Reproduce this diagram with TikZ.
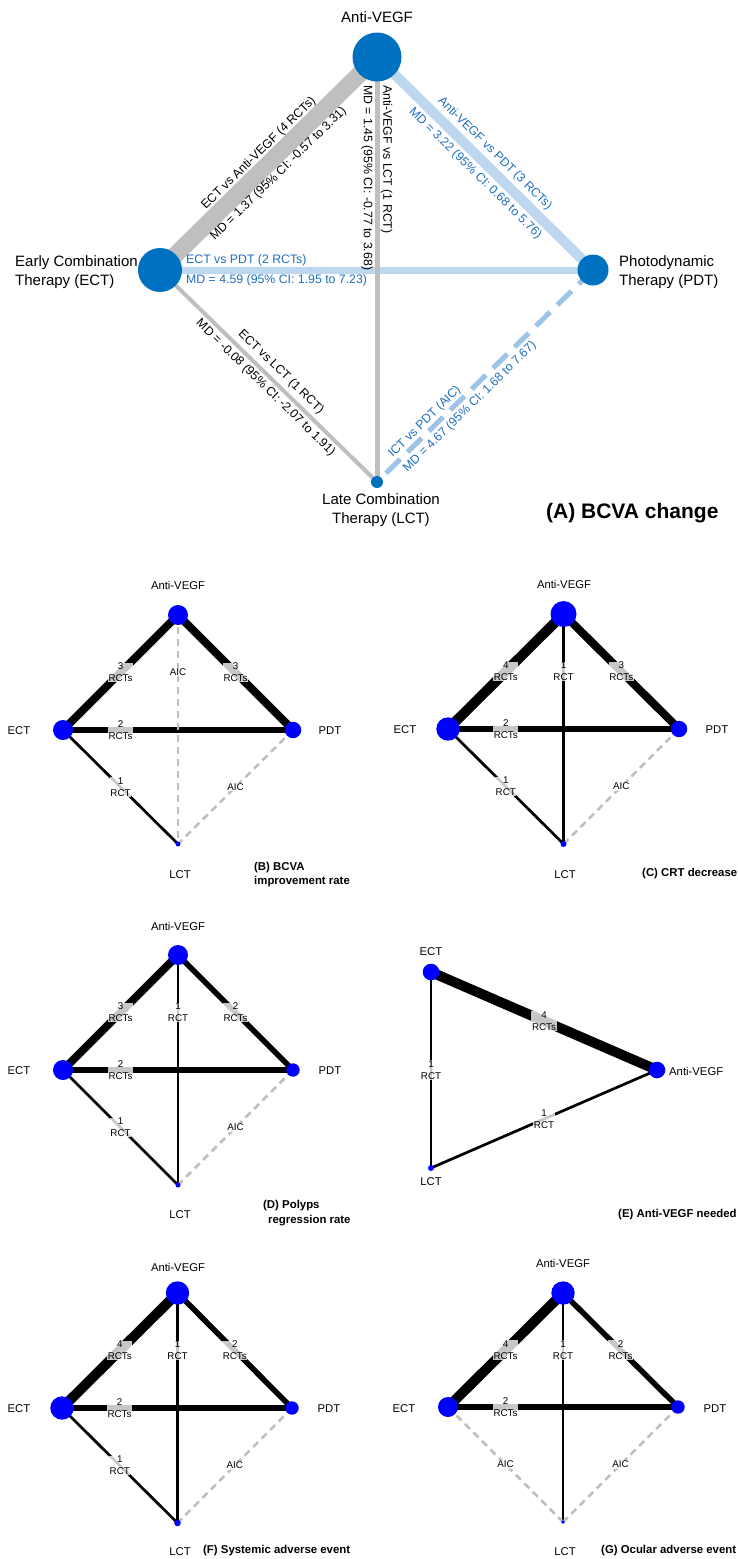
\documentclass[tikz,border=0pt]{standalone}
\usepackage{fontspec}
\setmainfont{Liberation Sans}
\usetikzlibrary{backgrounds}
\definecolor{nodeblue}{HTML}{0070C0}
\definecolor{txtblue}{HTML}{1F6FC0}
\definecolor{linegray}{HTML}{BFBFBF}
\definecolor{paleblue}{HTML}{BDD7EE}
\definecolor{dashblue}{HTML}{9DC3E6}
\definecolor{aicgray}{HTML}{BEBEBE}
\definecolor{pureblue}{HTML}{0000FF}
\begin{document}
\begin{tikzpicture}[x=1pt,y=-1pt,
  bigdot/.style={circle,fill=nodeblue,draw=none,inner sep=0pt,minimum size=#1},
  pdot/.style={circle,fill=pureblue,draw=none,inner sep=0pt,minimum size=#1},
  bigname/.style={font=\fontsize{15}{18.6}\selectfont,align=left,inner sep=0pt},
  lbl/.style={font=\fontsize{11.3}{13}\selectfont,inner sep=0pt},
  paneltitle/.style={font=\fontsize{11.4}{14}\selectfont\bfseries,anchor=west,align=left,inner sep=0pt},
  mdtext/.style={font=\fontsize{12.3}{14}\selectfont,inner sep=0pt},
  bluetext/.style={mdtext,text=txtblue},
  cnt/.style={font=\fontsize{9.8}{11.8}\selectfont,align=center,fill=white,fill opacity=0.78,text opacity=1,inner sep=0.6pt},
  w1/.style={draw=black,line width=2.7pt},
  w2/.style={draw=black,line width=5.5pt},
  w3/.style={draw=black,line width=8pt},
  w4/.style={draw=black,line width=10pt},
  aicline/.style={draw=aicgray,line width=2.5pt,dash pattern=on 7pt off 5pt}
]
\useasboundingbox (0,0) rectangle (737,1559);
\begin{pgfonlayer}{background}
  \fill[white] (0,0) rectangle (737,1559);
\end{pgfonlayer}

% ---------------- (A) BCVA change ----------------
\node[bigdot=49pt] (aAV)  at (377,57)  {};
\node[bigdot=44pt] (aECT) at (160,270) {};
\node[bigdot=31pt] (aPDT) at (593,270) {};
\node[bigdot=12pt] (aLCT) at (377,482) {};

\begin{pgfonlayer}{background}
  \draw[linegray,line width=17pt] (aECT.center) -- (aAV.center);
  \draw[paleblue,line width=10pt] (aAV.center) -- (aPDT.center);
  \draw[paleblue,line width=7pt] (aECT.center) -- (aPDT.center);
  \draw[linegray,line width=5pt] (aAV.center) -- (aLCT.center);
  \draw[linegray,line width=4pt] (aECT.center) -- (aLCT.center);
  \draw[dashblue,line width=5pt,dash pattern=on 20pt off 10pt] (aPDT.center) -- (aLCT.center);
\end{pgfonlayer}

\node[bigname] (aAVname) at (377,17) {Anti-VEGF};
\node[bigname,anchor=west] (aECTname) at (15,272) {Early Combination\\Therapy (ECT)};
\node[bigname,anchor=west] (aPDTname) at (619,272) {Photodynamic\\Therapy (PDT)};
\node[bigname,align=center] (aLCTname) at (381,510) {Late Combination\\Therapy (LCT)};
\node[font=\fontsize{21}{24}\selectfont\bfseries,inner sep=0pt,anchor=west] (aTitle) at (546,513) {(A) BCVA change};

\path (aECT.center) -- (aAV.center)
  node[mdtext,pos=0.5,sloped,yshift=14pt] {ECT vs Anti-VEGF (4 RCTs)}
  node[mdtext,pos=0.5,sloped,yshift=-14.5pt] {MD = 1.37 (95\% CI: -0.57 to 3.31)};
\path (aAV.center) -- (aPDT.center)
  node[bluetext,pos=0.5,sloped,yshift=14pt] {Anti-VEGF vs PDT (3 RCTs)}
  node[bluetext,pos=0.5,sloped,yshift=-14pt] {MD = 3.22 (95\% CI: 0.68 to 5.76)};
\path (aECT.center) -- (aPDT.center)
  node[bluetext,pos=0,anchor=west,xshift=26pt,yshift=10pt] {ECT vs PDT (2 RCTs)}
  node[bluetext,pos=0,anchor=west,xshift=26pt,yshift=-10.5pt] {MD = 4.59 (95\% CI: 1.95 to 7.23)};
\path (aAV.center) -- (aLCT.center)
  node[mdtext,pos=0.066,sloped,allow upside down,anchor=west,yshift=9.5pt] {Anti-VEGF vs LCT (1 RCT)}
  node[mdtext,pos=0.066,sloped,allow upside down,anchor=west,yshift=-10pt] {MD = 1.45 (95\% CI: -0.77 to 3.68)};
\path (aECT.center) -- (aLCT.center)
  node[mdtext,pos=0.52,sloped,yshift=11.5pt] {ECT vs LCT (1 RCT)}
  node[mdtext,pos=0.52,sloped,yshift=-10.5pt] {MD = -0.08 (95\% CI: -2.07 to 1.91)};
\path (aLCT.center) -- (aPDT.center)
  node[bluetext,pos=0.093,sloped,anchor=west,yshift=9.5pt] {ICT vs PDT (AIC)}
  node[bluetext,pos=0.093,sloped,anchor=west,yshift=-11.5pt] {MD = 4.67 (95\% CI: 1.68 to 7.67)};

% ---------------- (B) BCVA improvement rate ----------------
\node[pdot=20pt] (bAV)  at (178,615) {};
\node[pdot=20pt] (bECT) at (63,730) {};
\node[pdot=16.5pt] (bPDT) at (293,730) {};
\node[pdot=5pt] (bLCT) at (178,844) {};
\begin{pgfonlayer}{background}
  \draw[w3] (bECT.center) -- (bAV.center);
  \draw[w3] (bAV.center) -- (bPDT.center);
  \draw[w2] (bECT.center) -- (bPDT.center);
  \draw[aicline] (bAV.center) -- (bLCT.center);
  \draw[w1] (bECT.center) -- (bLCT.center);
  \draw[aicline] (bPDT.center) -- (bLCT.center);
\end{pgfonlayer}
\path (bECT.center) -- (bAV.center) node[cnt,pos=0.5] {3\\RCTs};
\path (bAV.center) -- (bPDT.center) node[cnt,pos=0.5] {3\\RCTs};
\path (bECT.center) -- (bPDT.center) node[cnt,pos=0.25] {2\\RCTs};
\path (bAV.center) -- (bLCT.center) node[cnt,pos=0.25] {AIC};
\path (bECT.center) -- (bLCT.center) node[cnt,pos=0.5] {1\\RCT};
\path (bPDT.center) -- (bLCT.center) node[cnt,pos=0.5] {AIC};
\node[lbl] (bAVname) at (178,585) {Anti-VEGF};
\node[lbl] (bECTname) at (19,731) {ECT};
\node[lbl] (bPDTname) at (330,731) {PDT};
\node[lbl] (bLCTname) at (180,875) {LCT};
\node[paneltitle] (bTitle) at (254,875) {(B) BCVA\\improvement rate};

% ---------------- (C) CRT decrease ----------------
\node[pdot=26pt] (cAV)  at (563.5,614) {};
\node[pdot=23.4pt] (cECT) at (448,729) {};
\node[pdot=16.4pt] (cPDT) at (679,729) {};
\node[pdot=6pt] (cLCT) at (563.5,844) {};
\begin{pgfonlayer}{background}
  \draw[w4] (cECT.center) -- (cAV.center);
  \draw[w3] (cAV.center) -- (cPDT.center);
  \draw[w1] (cAV.center) -- (cLCT.center);
  \draw[w2] (cECT.center) -- (cPDT.center);
  \draw[w1] (cECT.center) -- (cLCT.center);
  \draw[aicline] (cPDT.center) -- (cLCT.center);
\end{pgfonlayer}
\path (cECT.center) -- (cAV.center) node[cnt,pos=0.5] {4\\RCTs};
\path (cAV.center) -- (cPDT.center) node[cnt,pos=0.5] {3\\RCTs};
\path (cAV.center) -- (cLCT.center) node[cnt,pos=0.25] {1\\RCT};
\path (cECT.center) -- (cPDT.center) node[cnt,pos=0.25] {2\\RCTs};
\path (cECT.center) -- (cLCT.center) node[cnt,pos=0.5] {1\\RCT};
\path (cPDT.center) -- (cLCT.center) node[cnt,pos=0.5] {AIC};
\node[lbl] (cAVname) at (564,584) {Anti-VEGF};
\node[lbl] (cECTname) at (405,730) {ECT};
\node[lbl] (cPDTname) at (717,730) {PDT};
\node[lbl] (cLCTname) at (565,875) {LCT};
\node[paneltitle] (cTitle) at (642,874) {(C) CRT decrease};

% ---------------- (D) Polyps regression rate ----------------
\node[pdot=20pt] (dAV)  at (178,955) {};
\node[pdot=20pt] (dECT) at (63,1070) {};
\node[pdot=13.4pt] (dPDT) at (293,1070) {};
\node[pdot=5pt] (dLCT) at (178,1185) {};
\begin{pgfonlayer}{background}
  \draw[w3] (dECT.center) -- (dAV.center);
  \draw[w2] (dAV.center) -- (dPDT.center);
  \draw[w1] (dAV.center) -- (dLCT.center);
  \draw[w2] (dECT.center) -- (dPDT.center);
  \draw[w1] (dECT.center) -- (dLCT.center);
  \draw[aicline] (dPDT.center) -- (dLCT.center);
\end{pgfonlayer}
\path (dECT.center) -- (dAV.center) node[cnt,pos=0.5] {3\\RCTs};
\path (dAV.center) -- (dPDT.center) node[cnt,pos=0.5] {2\\RCTs};
\path (dAV.center) -- (dLCT.center) node[cnt,pos=0.25] {1\\RCT};
\path (dECT.center) -- (dPDT.center) node[cnt,pos=0.25] {2\\RCTs};
\path (dECT.center) -- (dLCT.center) node[cnt,pos=0.5] {1\\RCT};
\path (dPDT.center) -- (dLCT.center) node[cnt,pos=0.5] {AIC};
\node[lbl] (dAVname) at (178,926) {Anti-VEGF};
\node[lbl] (dECTname) at (19,1071) {ECT};
\node[lbl] (dPDTname) at (330,1071) {PDT};
\node[lbl] (dLCTname) at (180,1215) {LCT};
\node[paneltitle] (dTitleA) at (263,1206) {(D) Polyps};
\node[paneltitle] (dTitleB) at (268,1221) {regression rate};

% ---------------- (E) Anti-VEGF needed ----------------
\node[pdot=16.6pt] (eECT) at (431,972) {};
\node[pdot=16.6pt] (eAV)  at (657,1070) {};
\node[pdot=6pt] (eLCT) at (431,1168) {};
\begin{pgfonlayer}{background}
  \draw[w4] (eECT.center) -- (eAV.center);
  \draw[w1] (eECT.center) -- (eLCT.center);
  \draw[w1] (eLCT.center) -- (eAV.center);
\end{pgfonlayer}
\path (eECT.center) -- (eAV.center) node[cnt,pos=0.5] {4\\RCTs};
\path (eECT.center) -- (eLCT.center) node[cnt,pos=0.5] {1\\RCT};
\path (eLCT.center) -- (eAV.center) node[cnt,pos=0.5] {1\\RCT};
\node[lbl] (eECTname) at (431,952) {ECT};
\node[lbl,anchor=west] (eAVname) at (669,1071) {Anti-VEGF};
\node[lbl] (eLCTname) at (431,1182) {LCT};
\node[paneltitle] (eTitle) at (618,1215) {(E) Anti-VEGF needed};

% ---------------- (F) Systemic adverse event ----------------
\node[pdot=23.4pt] (fAV)  at (177.5,1293) {};
\node[pdot=23.4pt] (fECT) at (62,1408) {};
\node[pdot=13.4pt] (fPDT) at (292,1408) {};
\node[pdot=6.6pt] (fLCT) at (177.5,1523) {};
\begin{pgfonlayer}{background}
  \draw[w4] (fECT.center) -- (fAV.center);
  \draw[w2] (fAV.center) -- (fPDT.center);
  \draw[w1] (fAV.center) -- (fLCT.center);
  \draw[w2] (fECT.center) -- (fPDT.center);
  \draw[w1] (fECT.center) -- (fLCT.center);
  \draw[aicline] (fPDT.center) -- (fLCT.center);
\end{pgfonlayer}
\path (fECT.center) -- (fAV.center) node[cnt,pos=0.5] {4\\RCTs};
\path (fAV.center) -- (fPDT.center) node[cnt,pos=0.5] {2\\RCTs};
\path (fAV.center) -- (fLCT.center) node[cnt,pos=0.25] {1\\RCT};
\path (fECT.center) -- (fPDT.center) node[cnt,pos=0.25] {2\\RCTs};
\path (fECT.center) -- (fLCT.center) node[cnt,pos=0.5] {1\\RCT};
\path (fPDT.center) -- (fLCT.center) node[cnt,pos=0.5] {AIC};
\node[lbl] (fAVname) at (178,1267) {Anti-VEGF};
\node[lbl] (fECTname) at (19,1409) {ECT};
\node[lbl] (fPDTname) at (329,1409) {PDT};
\node[lbl] (fLCTname) at (180,1552) {LCT};
\node[paneltitle] (fTitle) at (203,1551) {(F) Systemic adverse event};

% ---------------- (G) Ocular adverse event ----------------
\node[pdot=23.4pt] (gAV)  at (563,1293) {};
\node[pdot=20pt] (gECT) at (448,1407) {};
\node[pdot=13.4pt] (gPDT) at (678,1407) {};
\node[pdot=3.6pt] (gLCT) at (563,1522) {};
\begin{pgfonlayer}{background}
  \draw[w4] (gECT.center) -- (gAV.center);
  \draw[w2] (gAV.center) -- (gPDT.center);
  \draw[w1] (gAV.center) -- (gLCT.center);
  \draw[w2] (gECT.center) -- (gPDT.center);
  \draw[aicline] (gECT.center) -- (gLCT.center);
  \draw[aicline] (gPDT.center) -- (gLCT.center);
\end{pgfonlayer}
\path (gECT.center) -- (gAV.center) node[cnt,pos=0.5] {4\\RCTs};
\path (gAV.center) -- (gPDT.center) node[cnt,pos=0.5] {2\\RCTs};
\path (gAV.center) -- (gLCT.center) node[cnt,pos=0.25] {1\\RCT};
\path (gECT.center) -- (gPDT.center) node[cnt,pos=0.25] {2\\RCTs};
\path (gECT.center) -- (gLCT.center) node[cnt,pos=0.5] {AIC};
\path (gPDT.center) -- (gLCT.center) node[cnt,pos=0.5] {AIC};
\node[lbl] (gAVname) at (563,1263) {Anti-VEGF};
\node[lbl] (gECTname) at (404,1409) {ECT};
\node[lbl] (gPDTname) at (715,1409) {PDT};
\node[lbl] (gLCTname) at (565,1552) {LCT};
\node[paneltitle] (gTitle) at (601,1551) {(G) Ocular adverse event};
\end{tikzpicture}
\end{document}
